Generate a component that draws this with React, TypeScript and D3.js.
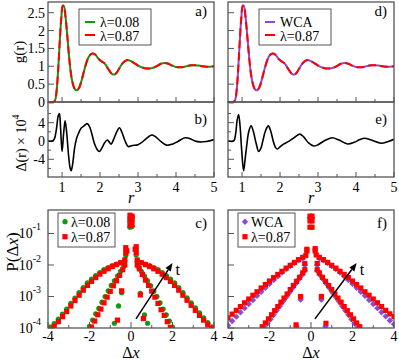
import React from 'react';
import * as d3 from 'd3';

// ---------- data ----------
const grR = [0.63, 0.78, 0.82, 0.86, 0.9, 0.94, 0.98, 1.02, 1.05, 1.09, 1.13, 1.17, 1.21, 1.25, 1.3, 1.35, 1.4, 1.45, 1.5, 1.55, 1.6, 1.65, 1.7, 1.75, 1.8, 1.85, 1.9, 1.95, 2.0, 2.05, 2.1, 2.15, 2.2, 2.25, 2.3, 2.35, 2.4, 2.45, 2.5, 2.55, 2.6, 2.65, 2.7, 2.75, 2.8, 2.9, 3.0, 3.1, 3.2, 3.3, 3.4, 3.5, 3.6, 3.7, 3.8, 3.9, 4.0, 4.1, 4.2, 4.3, 4.4, 4.5, 4.6, 4.7, 4.8, 4.9, 5.0];
const grG = [0, 0, 0.06, 0.35, 0.95, 1.7, 2.35, 2.7, 2.68, 2.4, 1.95, 1.45, 1.0, 0.68, 0.45, 0.34, 0.33, 0.4, 0.55, 0.75, 0.95, 1.13, 1.26, 1.33, 1.36, 1.35, 1.3, 1.22, 1.17, 1.13, 1.1, 1.04, 0.95, 0.87, 0.8, 0.77, 0.78, 0.84, 0.93, 1.02, 1.09, 1.14, 1.17, 1.17, 1.15, 1.09, 1.02, 0.97, 0.94, 0.94, 0.96, 1.01, 1.07, 1.09, 1.07, 1.02, 0.98, 0.97, 0.98, 1.01, 1.03, 1.03, 1.02, 1.0, 0.99, 0.99, 1.0];

const deltaBR = [0.63, 0.75, 0.8, 0.85, 0.9, 0.93, 0.96, 1.0, 1.04, 1.08, 1.12, 1.17, 1.21, 1.24, 1.28, 1.33, 1.38, 1.43, 1.5, 1.58, 1.66, 1.72, 1.78, 1.85, 1.92, 1.98, 2.05, 2.12, 2.19, 2.24, 2.29, 2.36, 2.44, 2.51, 2.58, 2.66, 2.74, 2.85, 3.0, 3.1, 3.2, 3.36, 3.45, 3.6, 3.75, 3.9, 4.05, 4.24, 4.4, 4.5, 4.63, 4.8, 5.0];
const deltaBV = [0, 0, 0.5, 2.5, 5.5, 6.0, 3.0, -2.3, 1.5, 4.4, 2.0, -3.0, -5.8, -6.5, -5.0, -1.5, 0.5, 1.6, 2.8, 3.3, 3.8, 3.2, 1.7, -0.5, -1.8, -2.3, -1.5, -0.4, 0.2, -0.2, -0.7, 0.4, 2.0, 2.9, 1.8, 0.0, -1.2, -1.0, -0.8, -0.3, 0.4, 1.3, 1.0, -0.1, -0.9, -0.7, -0.1, 0.7, 0.4, 0.0, -0.2, -0.1, 0.3];

const deltaER = [0.63, 0.78, 0.83, 0.87, 0.91, 0.95, 0.99, 1.04, 1.08, 1.13, 1.18, 1.24, 1.3, 1.37, 1.44, 1.5, 1.56, 1.62, 1.69, 1.75, 1.82, 1.88, 1.93, 2.0, 2.09, 2.2, 2.35, 2.52, 2.62, 2.75, 2.89, 3.0, 3.2, 3.38, 3.55, 3.78, 3.95, 4.1, 4.22, 4.4, 4.66, 4.85, 5.0];
const deltaEV = [0, 0, 1.5, 4.5, 5.8, 3.0, -2.0, -6.5, -4.0, -0.5, 2.2, 3.3, 2.0, -0.5, -2.3, -1.5, 0.5, 2.3, 3.3, 2.3, 0.0, -1.4, -1.75, -1.3, -0.7, -0.2, 0.6, 1.5, 0.9, -0.4, -1.1, -0.8, 0.2, 0.7, 0.2, -0.65, -0.3, 0.3, 0.6, 0.2, -0.5, -0.1, 0.4];

const gTicks = [0, 0.5, 1, 1.5, 2, 2.5];
const rTicks = [1, 2, 3, 4, 5];
const rMinor = [1.5, 2.5, 3.5, 4.5];
const dTicks = [-4, 0, 4];
const dMinor = [-6, -2, 2, 6];
const pDecades = [-4, -3, -2, -1];
const dxTicks = [-4, -2, 0, 2, 4];
const dxMinor = [-3, -1, 1, 3];

// P(dx): [dx, log10 P]
const cGreenShort = [[-0.8, -3.85], [-0.6, -3.3], [-0.45, -2.88], [-0.25, -1.55], [-0.05, -0.5], [0.05, -0.47], [0.25, -1.5], [0.45, -2.9], [0.65, -3.58], [0.8, -3.85]];
const cRedShort = [[-0.65, -3.75], [-0.45, -2.82], [-0.25, -1.45], [-0.2, -1.55], [-0.05, -0.42], [0.05, -0.45], [0.2, -1.5], [0.25, -1.42], [0.45, -2.95], [0.6, -3.7]];
const cGreenMid = [[-2.0, -3.95], [-1.85, -3.75], [-1.7, -3.55], [-1.55, -3.38], [-1.4, -3.18], [-1.25, -3.0], [-1.1, -2.82], [-0.95, -2.65], [-0.8, -2.5], [-0.65, -2.35], [-0.5, -2.2], [-0.35, -2.05], [-0.25, -1.7], [-0.05, -0.62], [0.05, -0.6], [0.25, -1.68], [0.35, -2.05], [0.5, -2.2], [0.65, -2.35], [0.8, -2.5], [0.95, -2.66], [1.1, -2.83], [1.25, -3.0], [1.4, -3.2], [1.55, -3.4], [1.7, -3.58], [1.85, -3.78], [2.0, -3.97]];
const cRedMid = [[-1.9, -3.97], [-1.75, -3.78], [-1.6, -3.58], [-1.45, -3.4], [-1.3, -3.2], [-1.15, -3.02], [-1.0, -2.84], [-0.85, -2.66], [-0.7, -2.5], [-0.55, -2.33], [-0.4, -2.15], [-0.3, -2.0], [-0.25, -1.62], [-0.05, -0.58], [0.05, -0.55], [0.25, -1.6], [0.3, -2.0], [0.4, -2.12], [0.55, -2.3], [0.7, -2.48], [0.85, -2.65], [1.0, -2.83], [1.15, -3.02], [1.3, -3.22], [1.45, -3.42], [1.6, -3.6], [1.75, -3.8], [1.9, -3.98]];
const cGreenLong = [[-3.9, -3.97], [-3.7, -3.86], [-3.5, -3.72], [-3.3, -3.56], [-3.1, -3.4], [-2.9, -3.22], [-2.7, -3.05], [-2.5, -2.88], [-2.3, -2.72], [-2.1, -2.57], [-1.9, -2.45], [-1.7, -2.34], [-1.5, -2.24], [-1.3, -2.15], [-1.1, -2.08], [-0.9, -2.02], [-0.7, -1.97], [-0.5, -1.92], [-0.3, -1.87], [-0.05, -0.8], [0.05, -0.78], [0.3, -1.87], [0.5, -1.92], [0.7, -1.97], [0.9, -2.02], [1.1, -2.08], [1.3, -2.15], [1.5, -2.24], [1.7, -2.34], [1.9, -2.45], [2.1, -2.57], [2.3, -2.72], [2.5, -2.88], [2.7, -3.04], [2.9, -3.2], [3.1, -3.36], [3.3, -3.52], [3.5, -3.68], [3.7, -3.83], [3.9, -3.96]];
const cRedLong = [[-3.7, -3.95], [-3.5, -3.8], [-3.3, -3.64], [-3.1, -3.48], [-2.9, -3.3], [-2.7, -3.13], [-2.5, -2.96], [-2.3, -2.8], [-2.1, -2.65], [-1.9, -2.52], [-1.7, -2.4], [-1.5, -2.29], [-1.3, -2.2], [-1.1, -2.12], [-0.9, -2.05], [-0.7, -1.99], [-0.5, -1.93], [-0.3, -1.84], [-0.05, -0.75], [0.05, -0.72], [0.3, -1.84], [0.5, -1.93], [0.7, -1.99], [0.9, -2.05], [1.1, -2.12], [1.3, -2.2], [1.5, -2.29], [1.7, -2.4], [1.9, -2.52], [2.1, -2.65], [2.3, -2.8], [2.5, -2.96], [2.7, -3.12], [2.9, -3.28], [3.1, -3.44], [3.3, -3.6], [3.5, -3.75], [3.7, -3.9], [3.9, -4.02]];

const fPurpleShort = [[-0.7, -3.95], [-0.5, -3.1], [-0.3, -2.0], [-0.05, -0.5], [0.05, -0.5], [0.3, -2.0], [0.5, -3.1], [0.7, -3.95]];
const fRedShort = [[-0.72, -3.9], [-0.5, -3.0], [-0.3, -1.95], [-0.2, -1.5], [-0.05, -0.45], [0.05, -0.45], [0.2, -1.48], [0.3, -1.95], [0.5, -3.0], [0.72, -3.85]];
const fPurpleMid = [[-2.25, -3.98], [-2.1, -3.86], [-1.95, -3.72], [-1.8, -3.58], [-1.65, -3.44], [-1.5, -3.3], [-1.35, -3.16], [-1.2, -3.02], [-1.05, -2.88], [-0.9, -2.74], [-0.75, -2.6], [-0.6, -2.46], [-0.45, -2.33], [-0.3, -2.18], [0.3, -2.18], [0.45, -2.33], [0.6, -2.46], [0.75, -2.6], [0.9, -2.74], [1.05, -2.88], [1.2, -3.02], [1.35, -3.16], [1.5, -3.3], [1.65, -3.44], [1.8, -3.58], [1.95, -3.72], [2.1, -3.86], [2.25, -3.98]];
const fRedMid = [[-2.35, -3.96], [-2.2, -3.84], [-2.05, -3.71], [-1.9, -3.58], [-1.75, -3.45], [-1.6, -3.32], [-1.45, -3.18], [-1.3, -3.05], [-1.15, -2.92], [-1.0, -2.78], [-0.85, -2.65], [-0.7, -2.52], [-0.55, -2.39], [-0.4, -2.25], [-0.3, -2.15], [-0.2, -1.55], [-0.05, -0.6], [0.05, -0.6], [0.2, -1.55], [0.3, -2.15], [0.4, -2.25], [0.55, -2.39], [0.7, -2.52], [0.85, -2.65], [1.0, -2.78], [1.15, -2.92], [1.3, -3.05], [1.45, -3.18], [1.6, -3.32], [1.75, -3.45], [1.9, -3.58], [2.05, -3.71], [2.2, -3.84], [2.35, -3.96]];
const fPurpleLong = [[-4.0, -3.92], [-3.8, -3.78], [-3.6, -3.64], [-3.4, -3.5], [-3.2, -3.37], [-3.0, -3.24], [-2.8, -3.11], [-2.6, -2.98], [-2.4, -2.85], [-2.2, -2.72], [-2.0, -2.6], [-1.8, -2.48], [-1.6, -2.36], [-1.4, -2.24], [-1.2, -2.13], [-1.0, -2.03], [-0.8, -1.93], [-0.6, -1.85], [-0.4, -1.78], [0.4, -1.78], [0.6, -1.85], [0.8, -1.93], [1.0, -2.03], [1.2, -2.13], [1.4, -2.24], [1.6, -2.36], [1.8, -2.48], [2.0, -2.6], [2.2, -2.72], [2.4, -2.85], [2.6, -2.98], [2.8, -3.11], [3.0, -3.24], [3.2, -3.37], [3.4, -3.5], [3.6, -3.63], [3.8, -3.76], [4.0, -3.88]];
const fRedLong = [[-4.0, -3.68], [-3.8, -3.56], [-3.6, -3.44], [-3.4, -3.32], [-3.2, -3.2], [-3.0, -3.08], [-2.8, -2.96], [-2.6, -2.85], [-2.4, -2.73], [-2.2, -2.62], [-2.0, -2.51], [-1.8, -2.4], [-1.6, -2.3], [-1.4, -2.2], [-1.2, -2.1], [-1.0, -2.01], [-0.8, -1.92], [-0.6, -1.83], [-0.4, -1.76], [-0.25, -1.7], [-0.05, -0.8], [0.05, -0.8], [0.25, -1.68], [0.4, -1.76], [0.6, -1.83], [0.8, -1.92], [1.0, -2.01], [1.2, -2.1], [1.4, -2.2], [1.6, -2.3], [1.8, -2.4], [2.0, -2.51], [2.2, -2.62], [2.4, -2.73], [2.6, -2.85], [2.8, -2.96], [3.0, -3.08], [3.2, -3.2], [3.4, -3.32], [3.6, -3.44], [3.8, -3.55], [4.0, -3.64]];

// ---------- style ----------
const GREEN = '#0e9a0e';
const RED = '#ff0000';
const PURPLE = '#8a4ad8';
const FRAME = '#555';
const FONT = '"Liberation Serif", "DejaVu Serif", serif';

const LEFT = { x0: 48, x1: 214 };
const RIGHT = { x0: 228, x1: 394 };
const TOP = { y0: 2, y1: 102 };
const MID = { y0: 102, y1: 177 };
const BOT = { y0: 210, y1: 328 };

const yG = d3.scaleLinear().domain([0, 2.8]).range([TOP.y1, TOP.y0]);
const yD = d3.scaleLinear().domain([-7.87, 8.52]).range([MID.y1, MID.y0]);
const yP = d3.scaleLinear().domain([-4, -0.254]).range([BOT.y1, BOT.y0]);

function Frame({ x0, x1, y0, y1 }: any) {
  return <rect x={x0} y={y0} width={x1 - x0} height={y1 - y0} fill="none" stroke={FRAME} strokeWidth={1.3} />;
}

function Markers({ pts, kind, color, xs }: any) {
  return (
    <g>
      {pts.map((p: number[], i: number) => {
        const cx = xs(p[0]);
        const cy = yP(p[1]);
        if (kind === 'circle') return <circle key={i} cx={cx} cy={cy} r={2.6} fill={color} />;
        if (kind === 'square') return <rect key={i} x={cx - 2.6} y={cy - 2.6} width={5.2} height={5.2} fill={color} />;
        return <path key={i} d={`M${cx},${cy - 3.2}L${cx + 3.2},${cy}L${cx},${cy + 3.2}L${cx - 3.2},${cy}Z`} fill={color} />;
      })}
    </g>
  );
}

function TopPanel({ px, label, showY, legend }: any) {
  const x = d3.scaleLinear().domain([0.63, 5]).range([px.x0, px.x1]);
  const line = d3.line<number>().x((_, i) => x(grR[i])).y((d) => yG(d)).curve(d3.curveCatmullRom);
  const path = line(grG) || '';
  return (
    <g>
      {gTicks.map((t) => (
        <g key={t}>
          <line x1={px.x0} x2={px.x0 + 6} y1={yG(t)} y2={yG(t)} stroke={FRAME} strokeWidth={1} />
          {showY && (
            <text x={px.x0 - 3} y={yG(t) + 5} textAnchor="end" fontSize={14} fontFamily={FONT}>{t}</text>
          )}
        </g>
      ))}
      {rTicks.map((t) => (
        <line key={t} x1={x(t)} x2={x(t)} y1={TOP.y1} y2={TOP.y1 - 5} stroke={FRAME} strokeWidth={1} />
      ))}
      {rMinor.map((t) => (
        <line key={t} x1={x(t)} x2={x(t)} y1={TOP.y1} y2={TOP.y1 - 3} stroke={FRAME} strokeWidth={1} />
      ))}
      <path d={path} fill="none" stroke={legend.c1} strokeWidth={2} />
      <path d={path} fill="none" stroke={RED} strokeWidth={2} strokeDasharray="8,4" />
      <rect x={px.x0 + 31} y={9} width={72} height={36} fill="#fff" stroke={FRAME} strokeWidth={1} />
      <line x1={px.x0 + 37} x2={px.x0 + 47} y1={22} y2={22} stroke={legend.c1} strokeWidth={2} />
      <text x={px.x0 + 52} y={26.5} fontSize={14} fontFamily={FONT}>{legend.t1}</text>
      <line x1={px.x0 + 37} x2={px.x0 + 47} y1={35} y2={35} stroke={RED} strokeWidth={2} />
      <text x={px.x0 + 52} y={40.5} fontSize={14} fontFamily={FONT}>λ=0.87</text>
      <text x={px.x1 - 7} y={16} textAnchor="end" fontSize={15} fontFamily={FONT}>{label}</text>
      <Frame x0={px.x0} x1={px.x1} y0={TOP.y0} y1={TOP.y1} />
    </g>
  );
}

function MidPanel({ px, label, showY, rs, vs }: any) {
  const x = d3.scaleLinear().domain([0.63, 5]).range([px.x0, px.x1]);
  const line = d3.line<number>().x((_, i) => x(rs[i])).y((d) => yD(d)).curve(d3.curveCatmullRom);
  return (
    <g>
      {dTicks.map((t) => (
        <g key={t}>
          <line x1={px.x0} x2={px.x0 + 6} y1={yD(t)} y2={yD(t)} stroke={FRAME} strokeWidth={1} />
          {showY && (
            <text x={px.x0 - 3} y={yD(t) + 5} textAnchor="end" fontSize={14} fontFamily={FONT}>{t}</text>
          )}
        </g>
      ))}
      {dMinor.map((t) => (
        <line key={t} x1={px.x0} x2={px.x0 + 3} y1={yD(t)} y2={yD(t)} stroke={FRAME} strokeWidth={1} />
      ))}
      {rTicks.map((t) => (
        <g key={t}>
          <line x1={x(t)} x2={x(t)} y1={MID.y1} y2={MID.y1 - 5} stroke={FRAME} strokeWidth={1} />
          <text x={x(t)} y={191.5} textAnchor="middle" fontSize={14} fontFamily={FONT}>{t}</text>
        </g>
      ))}
      {rMinor.map((t) => (
        <line key={t} x1={x(t)} x2={x(t)} y1={MID.y1} y2={MID.y1 - 3} stroke={FRAME} strokeWidth={1} />
      ))}
      <path d={line(vs) || ''} fill="none" stroke="#000" strokeWidth={1.6} />
      <text x={px.x1 - 7} y={123.5} textAnchor="end" fontSize={15} fontFamily={FONT}>{label}</text>
      <text x={(px.x0 + px.x1) / 2} y={203} textAnchor="middle" fontSize={16} fontStyle="italic" fontFamily={FONT}>r</text>
      <Frame x0={px.x0} x1={px.x1} y0={MID.y0} y1={MID.y1} />
    </g>
  );
}

function BotPanel({ px, label, showY, series, legend, arrow, clipId }: any) {
  const x = d3.scaleLinear().domain([-4, 4]).range([px.x0, px.x1]);
  const ax0 = x(arrow[0]), ay0 = yP(-3.71), ax1 = x(arrow[1]), ay1 = yP(-1.94);
  const ang = Math.atan2(ay1 - ay0, ax1 - ax0);
  const hl = 8, hw = 3.2;
  const bx = ax1 - hl * Math.cos(ang), by = ay1 - hl * Math.sin(ang);
  const head = `M${ax1},${ay1}L${bx + hw * Math.sin(ang)},${by - hw * Math.cos(ang)}L${bx - hw * Math.sin(ang)},${by + hw * Math.cos(ang)}Z`;
  return (
    <g>
      <defs>
        <clipPath id={clipId}>
          <rect x={px.x0} y={BOT.y0} width={px.x1 - px.x0} height={BOT.y1 - BOT.y0} />
        </clipPath>
      </defs>
      {pDecades.map((t) => (
        <g key={t}>
          <line x1={px.x0} x2={px.x0 + 6} y1={yP(t)} y2={yP(t)} stroke={FRAME} strokeWidth={1} />
          {showY && (
            <text x={px.x0 - 7} y={yP(t) + 5} textAnchor="end" fontSize={14} fontFamily={FONT}>
              10<tspan fontSize={10} dy={-8}>{t}</tspan>
            </text>
          )}
        </g>
      ))}
      {dxTicks.map((t) => (
        <g key={t}>
          <line x1={x(t)} x2={x(t)} y1={BOT.y1} y2={BOT.y1 - 6} stroke={FRAME} strokeWidth={1} />
          <text x={x(t)} y={341} textAnchor="middle" fontSize={14} fontFamily={FONT}>{t}</text>
        </g>
      ))}
      {dxMinor.map((t) => (
        <line key={t} x1={x(t)} x2={x(t)} y1={BOT.y1} y2={BOT.y1 - 3} stroke={FRAME} strokeWidth={1} />
      ))}
      <g clipPath={`url(#${clipId})`}>
        {series.map((s: any, i: number) => (
          <Markers key={i} pts={s.pts} kind={s.kind} color={s.color} xs={x} />
        ))}
      </g>
      <line x1={ax0} y1={ay0} x2={bx} y2={by} stroke="#000" strokeWidth={1.5} />
      <path d={head} fill="#000" />
      <text x={ax1 + 3} y={ay1 + 12} fontSize={16} fontFamily={FONT}>t</text>
      <rect x={px.x0 + 10} y={213} width={57} height={34} fill="#fff" stroke={FRAME} strokeWidth={1} />
      <Markers pts={[[-4 + (17 / 166) * 8, -4 + (328 - 221.7) / 31.5]]} kind={legend.k1} color={legend.c1} xs={x} />
      <text x={px.x0 + 23} y={226.5} fontSize={14} fontFamily={FONT}>{legend.t1}</text>
      <Markers pts={[[-4 + (17 / 166) * 8, -4 + (328 - 236.7) / 31.5]]} kind="square" color={RED} xs={x} />
      <text x={px.x0 + 23} y={241.5} fontSize={14} fontFamily={FONT}>λ=0.87</text>
      <text x={px.x1 - 7} y={228} textAnchor="end" fontSize={15} fontFamily={FONT}>{label}</text>
      <text x={(px.x0 + px.x1) / 2} y={358} textAnchor="middle" fontSize={16} fontFamily={FONT}>
        Δ<tspan fontStyle="italic">x</tspan>
      </text>
      <Frame x0={px.x0} x1={px.x1} y0={BOT.y0} y1={BOT.y1} />
    </g>
  );
}

export default function App() {
  return (
    <svg width={399} height={360} style={{ position: 'absolute', left: 0, top: 0, background: '#fff' }}>
      <rect x={0} y={0} width={399} height={360} fill="#fff" />
      <TopPanel px={LEFT} label="a)" showY legend={{ c1: GREEN, t1: 'λ=0.08' }} />
      <TopPanel px={RIGHT} label="d)" showY={false} legend={{ c1: PURPLE, t1: 'WCA' }} />
      <MidPanel px={LEFT} label="b)" showY rs={deltaBR} vs={deltaBV} />
      <MidPanel px={RIGHT} label="e)" showY={false} rs={deltaER} vs={deltaEV} />
      <BotPanel
        px={LEFT}
        label="c)"
        showY
        clipId="clipc"
        arrow={[0.24, 2.0]}
        legend={{ k1: 'circle', c1: GREEN, t1: 'λ=0.08' }}
        series={[
          { pts: cGreenShort, kind: 'circle', color: GREEN },
          { pts: cGreenMid, kind: 'circle', color: GREEN },
          { pts: cGreenLong, kind: 'circle', color: GREEN },
          { pts: cRedShort, kind: 'square', color: RED },
          { pts: cRedMid, kind: 'square', color: RED },
          { pts: cRedLong, kind: 'square', color: RED },
        ]}
      />
      <BotPanel
        px={RIGHT}
        label="f)"
        showY={false}
        clipId="clipf"
        arrow={[0.19, 2.2]}
        legend={{ k1: 'diamond', c1: PURPLE, t1: 'WCA' }}
        series={[
          { pts: fPurpleShort, kind: 'diamond', color: PURPLE },
          { pts: fPurpleMid, kind: 'diamond', color: PURPLE },
          { pts: fPurpleLong, kind: 'diamond', color: PURPLE },
          { pts: fRedShort, kind: 'square', color: RED },
          { pts: fRedMid, kind: 'square', color: RED },
          { pts: fRedLong, kind: 'square', color: RED },
        ]}
      />
      <text transform="translate(24,52) rotate(-90)" textAnchor="middle" fontSize={15} fontFamily={FONT}>g(r)</text>
      <text transform="translate(26,143) rotate(-90)" textAnchor="middle" fontSize={14} fontFamily={FONT}>
        Δ(r) × 10<tspan fontSize={10} dy={-7}>4</tspan>
      </text>
      <text transform="translate(18,252) rotate(-90)" textAnchor="middle" fontSize={17} fontFamily={FONT}>
        P(Δ<tspan fontStyle="italic">x</tspan>)
      </text>
    </svg>
  );
}
